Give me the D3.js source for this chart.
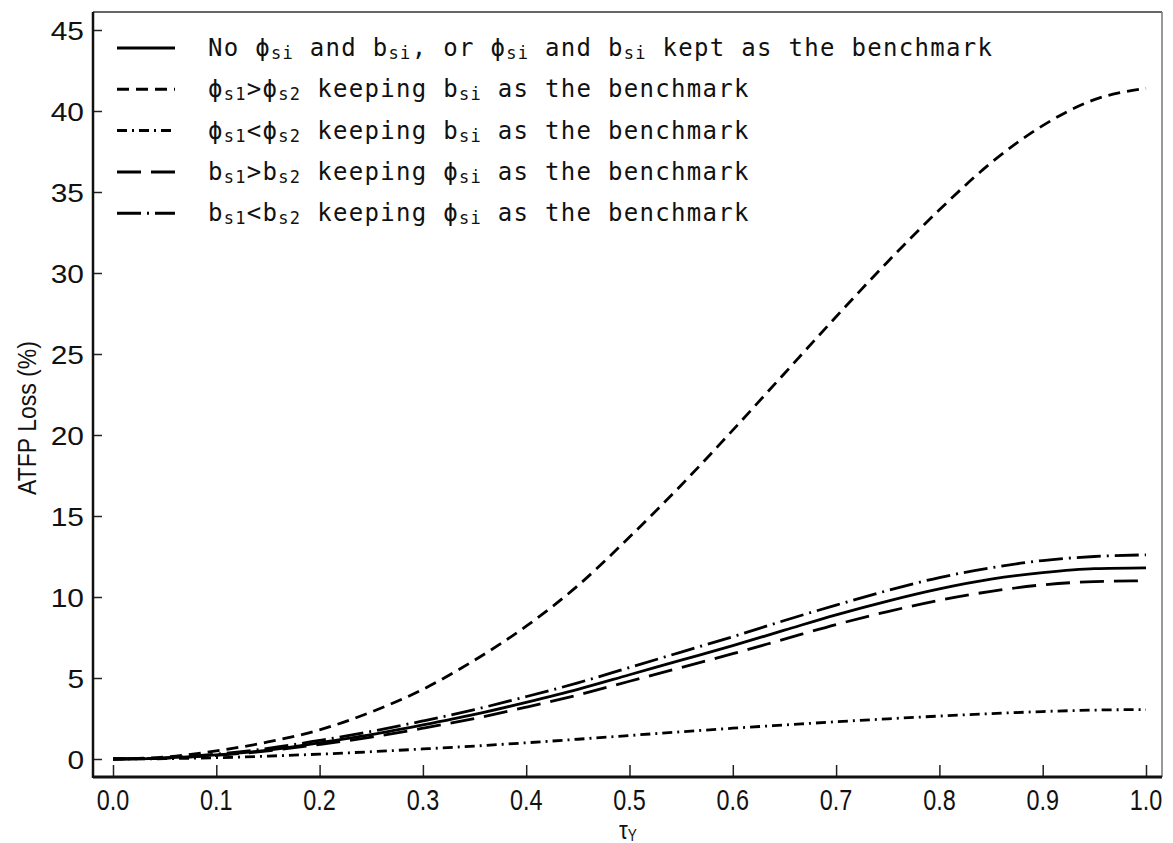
<!DOCTYPE html>
<html lang="en">
<head>
    <meta charset="utf-8" />
    <title>ATFP Loss</title>
    <script src="https://cdn.jsdelivr.net/npm/d3@7"></script>
    <style type="text/css">
        body { margin: 0; background: #fff; }
        .tick-label { font-family: "Liberation Sans", Arial, sans-serif; fill: #111; }
        .legend-text { font-family: "DejaVu Sans Mono", monospace; font-size: 24px; letter-spacing: 1.3px; fill: #111; }
        .curve { fill: none; stroke: #000; stroke-width: 2.8; }
    </style>
</head>
<body>
    <svg id="canvas" width="1173" height="843" xmlns="http://www.w3.org/2000/svg"></svg>
    <script type="text/javascript">
        var tau = [0, 0.05, 0.1, 0.15, 0.2, 0.25, 0.3, 0.35, 0.4, 0.45, 0.5,
                   0.55, 0.6, 0.65, 0.7, 0.75, 0.8, 0.85, 0.9, 0.95, 1.0];
        var benchmark = [0, 0.06, 0.25, 0.55, 1.0, 1.5, 2.1, 2.75, 3.5, 4.3, 5.2,
                         6.1, 7.0, 7.95, 8.9, 9.75, 10.5, 11.1, 11.5, 11.75, 11.8];
        var phiHigh = [0, 0.12, 0.5, 1.05, 1.8, 2.9, 4.3, 6.1, 8.2, 10.7, 13.7,
                       16.9, 20.3, 23.8, 27.3, 30.7, 33.9, 36.8, 39.1, 40.7, 41.4];
        var phiLow = [0, 0.02, 0.08, 0.18, 0.3, 0.45, 0.62, 0.8, 1.0, 1.22, 1.45,
                      1.68, 1.9, 2.1, 2.3, 2.48, 2.65, 2.8, 2.93, 3.02, 3.05];
        var bHigh = [0, 0.05, 0.22, 0.5, 0.9, 1.35, 1.9, 2.5, 3.2, 3.95, 4.8,
                     5.65, 6.5, 7.4, 8.3, 9.1, 9.8, 10.35, 10.75, 10.95, 11.0];
        var bLow = [0, 0.07, 0.3, 0.65, 1.15, 1.7, 2.35, 3.05, 3.85, 4.7, 5.65,
                    6.6, 7.55, 8.55, 9.5, 10.4, 11.2, 11.8, 12.25, 12.5, 12.6];
        var xTicks = [0, 0.1, 0.2, 0.3, 0.4, 0.5, 0.6, 0.7, 0.8, 0.9, 1.0];
        var yTicks = [0, 5, 10, 15, 20, 25, 30, 35, 40, 45];

        // legend label parts: [text, isSubscript]
        var legendParts = [
            [["No ϕ", 0], ["si", 1], [" and b", 0], ["si", 1], [", or ϕ", 0], ["si", 1], [" and b", 0], ["si", 1], [" kept as the benchmark", 0]],
            [["ϕ", 0], ["s1", 1], [">ϕ", 0], ["s2", 1], [" keeping b", 0], ["si", 1], [" as the benchmark", 0]],
            [["ϕ", 0], ["s1", 1], ["<ϕ", 0], ["s2", 1], [" keeping b", 0], ["si", 1], [" as the benchmark", 0]],
            [["b", 0], ["s1", 1], [">b", 0], ["s2", 1], [" keeping ϕ", 0], ["si", 1], [" as the benchmark", 0]],
            [["b", 0], ["s1", 1], ["<b", 0], ["s2", 1], [" keeping ϕ", 0], ["si", 1], [" as the benchmark", 0]]
        ];

        var series = [
            { values: benchmark, dash: null },
            { values: phiHigh, dash: "12,7" },
            { values: phiLow, dash: "10,5,2,5" },
            { values: bHigh, dash: "24,10" },
            { values: bLow, dash: "24,6,2,6" }
        ];

        var svg = d3.select("#canvas");
        var frame = { left: 93, right: 1162, top: 12, bottom: 777 };

        var x = d3.scaleLinear().domain([0, 1]).range([113, 1146]);
        var y = d3.scaleLinear().domain([0, 45]).range([759, 30]);

        // ticks (inside the frame)
        svg.append("g")
            .attr("transform", "translate(0," + frame.bottom + ")")
            .call(d3.axisTop(x).tickValues(xTicks).tickSize(12).tickFormat(""))
            .call(function (g) {
                g.select(".domain").remove();
                g.selectAll("line").attr("stroke", "#222").attr("stroke-width", 1.5);
            });
        svg.append("g")
            .attr("transform", "translate(" + frame.left + ",0)")
            .call(d3.axisRight(y).tickValues(yTicks).tickSize(9).tickFormat(""))
            .call(function (g) {
                g.select(".domain").remove();
                g.selectAll("line").attr("stroke", "#222").attr("stroke-width", 1.5);
            });

        // tick labels
        svg.selectAll(".xlab").data(xTicks).enter().append("text")
            .attr("class", "tick-label")
            .attr("text-anchor", "middle")
            .attr("font-size", 30)
            .attr("transform", function (d) { return "translate(" + x(d) + ",810) scale(0.78,1)"; })
            .text(d3.format(".1f"));
        svg.selectAll(".ylab").data(yTicks).enter().append("text")
            .attr("class", "tick-label")
            .attr("text-anchor", "end")
            .attr("font-size", 26)
            .attr("transform", function (d) { return "translate(84," + (y(d) + 9.5) + ") scale(1.15,1)"; })
            .text(function (d) { return d; });

        // axis titles
        svg.append("text")
            .attr("class", "tick-label")
            .attr("text-anchor", "middle")
            .attr("font-size", 25)
            .attr("fill", "#2a1a1a")
            .attr("transform", "translate(36,418) rotate(-90) scale(0.92,1)")
            .text("ATFP Loss (%)");
        var xt = svg.append("text")
            .attr("class", "tick-label")
            .attr("text-anchor", "middle")
            .attr("font-size", 26)
            .attr("transform", "translate(628,839) scale(0.85,1)");
        xt.append("tspan").text("τ");
        xt.append("tspan").attr("font-size", 16).attr("dy", 2).text("Y");

        // curves
        var line = d3.line()
            .x(function (d, i) { return x(tau[i]); })
            .y(function (d) { return y(d); })
            .curve(d3.curveMonotoneX);

        svg.selectAll(".curve").data(series).enter().append("path")
            .attr("class", "curve")
            .attr("d", function (s) { return line(s.values); })
            .attr("stroke-dasharray", function (s) { return s.dash; });

        // frame
        svg.append("line").attr("x1", frame.left).attr("x2", frame.right).attr("y1", frame.top).attr("y2", frame.top)
            .attr("stroke", "#333").attr("stroke-width", 1.5);
        svg.append("line").attr("x1", frame.right).attr("x2", frame.right).attr("y1", frame.top).attr("y2", frame.bottom)
            .attr("stroke", "#777").attr("stroke-width", 1.5);
        svg.append("line").attr("x1", frame.left).attr("x2", frame.left).attr("y1", frame.top).attr("y2", frame.bottom + 1)
            .attr("stroke", "#111").attr("stroke-width", 2.5);
        svg.append("line").attr("x1", frame.left).attr("x2", frame.right).attr("y1", frame.bottom).attr("y2", frame.bottom)
            .attr("stroke", "#111").attr("stroke-width", 3);

        // legend
        var legend = svg.append("g");
        var rowY = function (i) { return 48 + i * 41.3; };
        legend.selectAll("line").data(series).enter().append("line")
            .attr("x1", 117).attr("x2", 175)
            .attr("y1", function (d, i) { return rowY(i); })
            .attr("y2", function (d, i) { return rowY(i); })
            .attr("stroke", "#000").attr("stroke-width", 3)
            .attr("stroke-dasharray", function (s) { return s.dash; });

        legendParts.forEach(function (parts, i) {
            var t = legend.append("text")
                .attr("class", "legend-text")
                .attr("x", 208)
                .attr("y", rowY(i) + 8);
            // subscripts drop 3px, baseline comes back after them
            var prevSub = false;
            parts.forEach(function (p) {
                var sub = p[1] === 1;
                var ts = t.append("tspan").text(p[0])
                    .attr("dy", sub ? (prevSub ? 0 : 3) : (prevSub ? -3 : 0));
                if (sub) ts.attr("font-size", 17);
                prevSub = sub;
            });
        });
    </script>
</body>
</html>
